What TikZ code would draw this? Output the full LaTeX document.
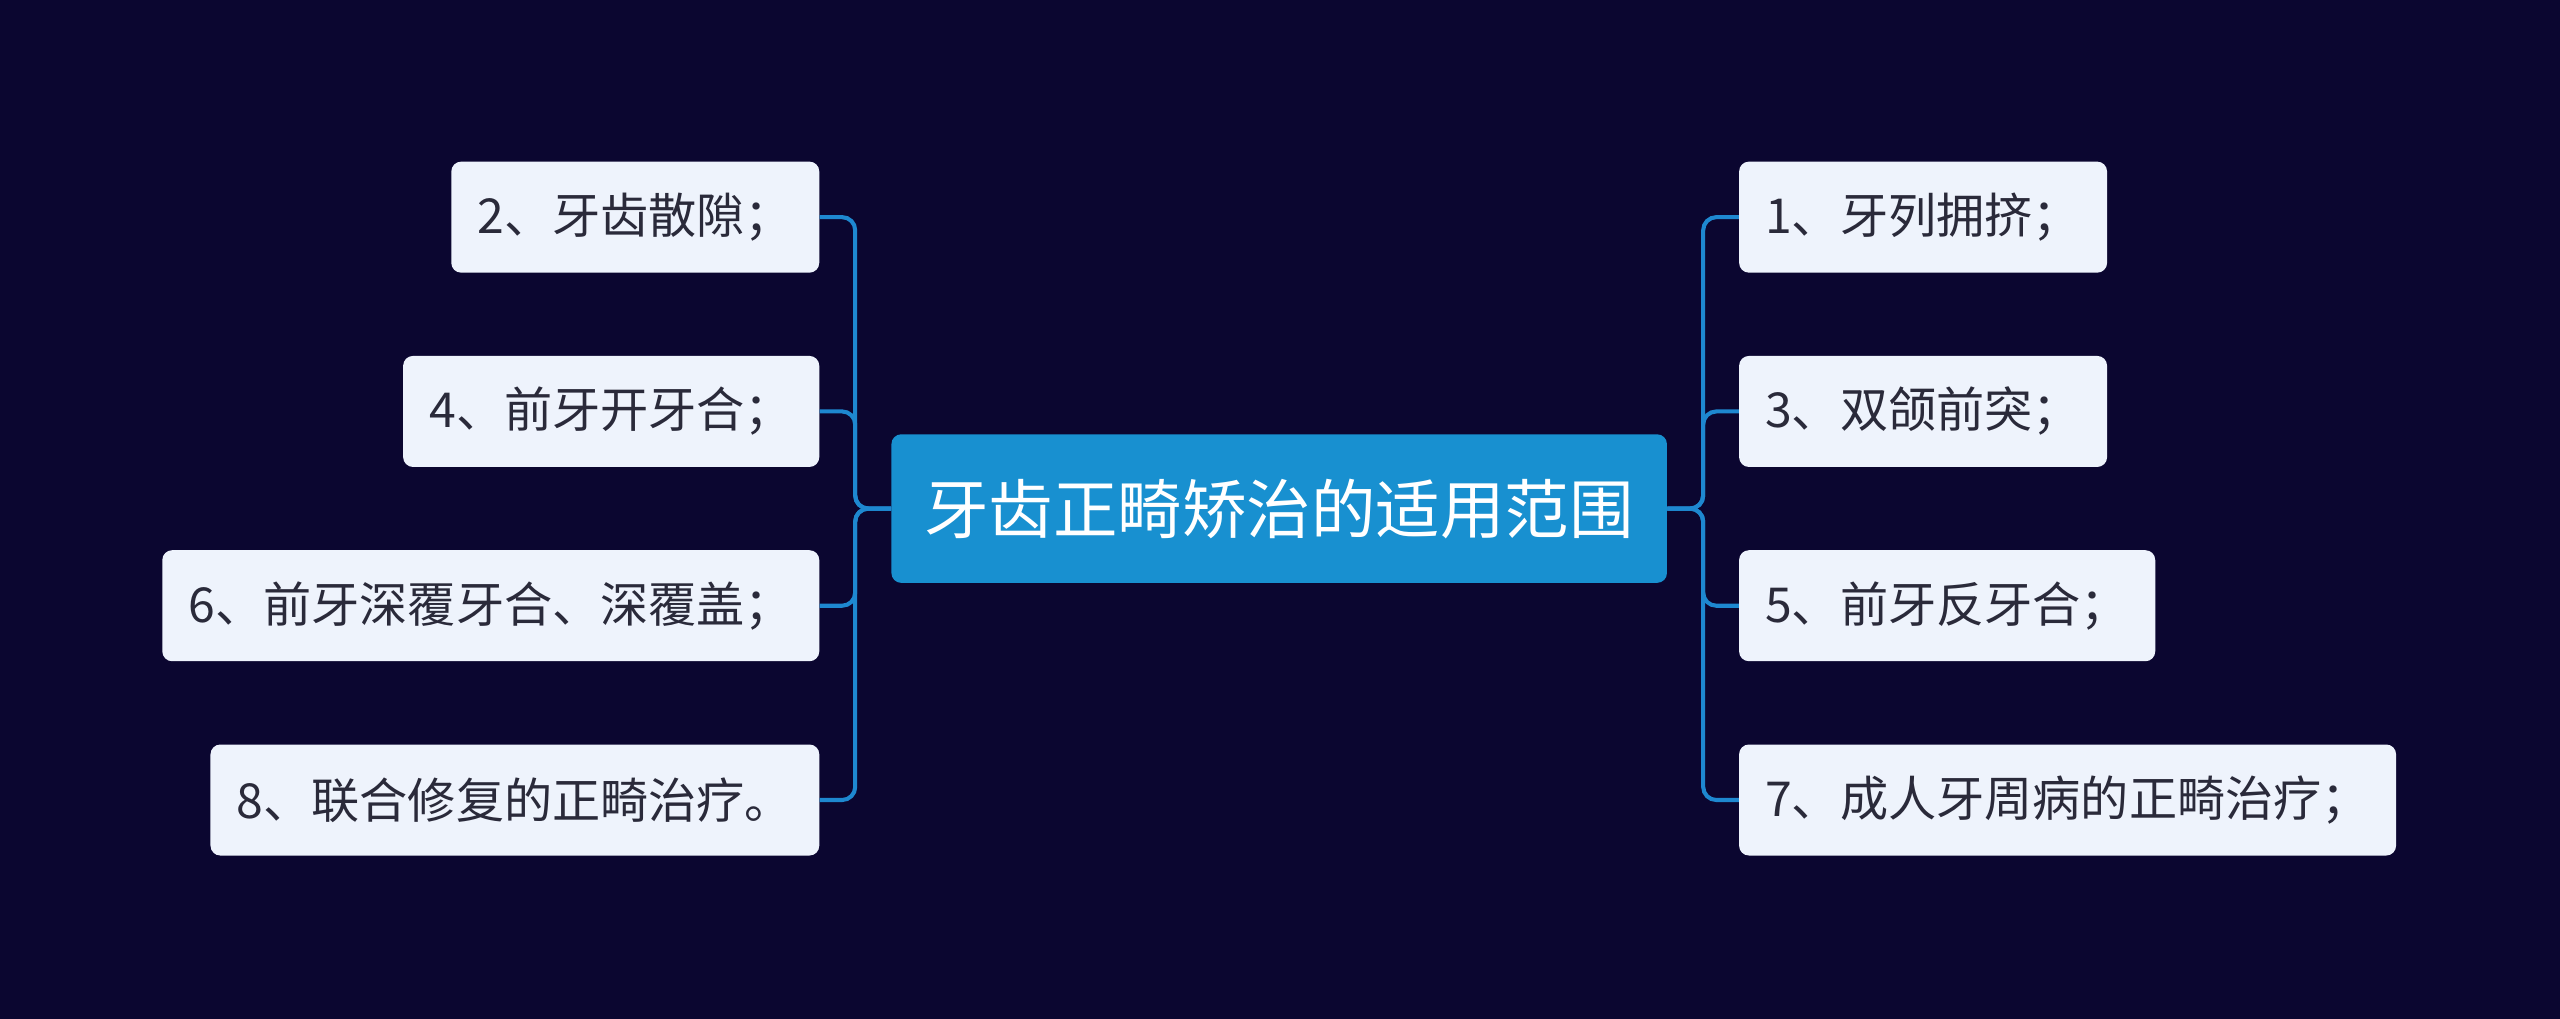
\documentclass[tikz,border=0pt]{standalone}
\usepackage{fontspec}
\setmainfont{Noto Sans CJK SC}
\definecolor{bgnavy}{HTML}{0B0630}
\definecolor{rootblue}{HTML}{1890D0}
\definecolor{leafbg}{HTML}{EEF3FC}
\definecolor{leaftext}{HTML}{2A2A3A}
\definecolor{linkblue}{HTML}{1E88D0}
\begin{document}
\begin{tikzpicture}[x=1pt, y=-1pt, root/.style={rectangle, rounded corners=6pt, fill=rootblue, text=white, font=\fontsize{39.5}{46}\selectfont, minimum width=475pt, minimum height=91pt, inner xsep=0pt}, leaf/.style={rectangle, rounded corners=6pt, fill=leafbg, text=leaftext, font=\fontsize{29.5}{34}\selectfont, minimum height=68pt, inner xsep=16pt}, link/.style={linkblue, line width=2.5pt, rounded corners=8pt}]
            \fill[bgnavy] (0,0) rectangle (1568,624);
            % nodes
            \node[root] (root) at (783.5,311.5) {牙齿正畸矫治的适用范围};
            \node[leaf, anchor=west] (r1) at (1065,133) {1、牙列拥挤；};
            \node[leaf, anchor=west] (r3) at (1065,252) {3、双颌前突；};
            \node[leaf, anchor=west] (r5) at (1065,371) {5、前牙反牙合；};
            \node[leaf, anchor=west] (r7) at (1065,490) {7、成人牙周病的正畸治疗；};
            \node[leaf, anchor=east] (l2) at (502,133) {2、牙齿散隙；};
            \node[leaf, anchor=east] (l4) at (502,252) {4、前牙开牙合；};
            \node[leaf, anchor=east] (l6) at (502,371) {6、前牙深覆牙合、深覆盖；};
            \node[leaf, anchor=east] (l8) at (502,490) {8、联合修复的正畸治疗。};
            % edges
            \foreach \n in {r1,r3,r5,r7}
                \draw[link] (root.east) -- ([xshift=22pt]root.east) |- (\n.west);
            \foreach \n in {l2,l4,l6,l8}
                \draw[link] (root.west) -- ([xshift=-22pt]root.west) |- (\n.east);
        \end{tikzpicture}
\end{document}
